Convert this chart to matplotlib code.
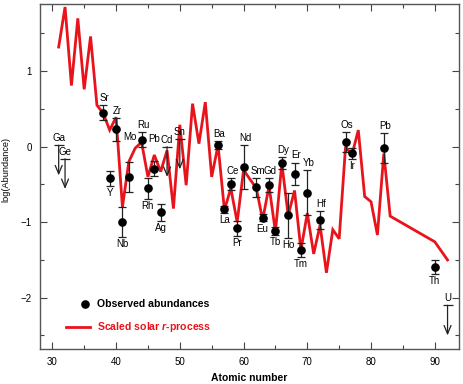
import matplotlib
matplotlib.use("Agg")
import matplotlib.pyplot as plt
import numpy as np

plt.rcParams['font.family'] = ['Liberation Sans', 'DejaVu Sans']
plt.rcParams['mathtext.fontset'] = 'custom'
plt.rcParams['mathtext.it'] = 'Liberation Sans:italic:bold'

# Scaled solar r-process curve
solar_z = [31, 32, 33, 34, 35, 36, 37, 38, 39, 40, 41, 42, 43, 44, 45, 46, 47, 48, 49, 50,
           51, 52, 53, 54, 55, 56, 57, 58, 59, 60, 62, 63, 64, 65, 66, 67, 68, 69, 70,
           71, 72, 73, 74, 75, 76, 77, 78, 79, 80, 81, 82, 83, 90, 92]
solar_log = [1.32, 1.85, 0.81, 1.70, 0.76, 1.46, 0.55, 0.44, 0.22, 0.39, -0.80, -0.20, -0.02, 0.06,
             -0.40, -0.11, -0.33, -0.05, -0.82, 0.29, -0.51, 0.57, 0.04, 0.59, -0.40, 0.02,
             -0.84, -0.55, -1.00, -0.31, -0.55, -0.97, -0.52, -1.13, -0.22, -0.91, -0.58,
             -1.37, -0.88, -1.42, -1.04, -1.67, -1.10, -1.22, 0.00, -0.11, 0.22, -0.66,
             -0.73, -1.17, -0.09, -0.92, -1.26, -1.50]

# Observed abundances with errors
obs_el = ['Sr', 'Y', 'Zr', 'Nb', 'Mo', 'Ru', 'Rh', 'Pb', 'Ag', 'Ba', 'La', 'Ce', 'Pr', 'Nd',
          'Sm', 'Eu', 'Gd', 'Tb', 'Dy', 'Ho', 'Er', 'Tm', 'Yb', 'Hf', 'Os', 'Ir', 'Pb', 'Th']
obs_z = [38, 39, 40, 41, 42, 44, 45, 46, 47, 56, 57, 58, 59, 60, 62, 63, 64, 65, 66, 67, 68,
         69, 70, 72, 76, 77, 82, 90]
obs_log = [0.45, -0.42, 0.23, -1.00, -0.40, 0.09, -0.55, -0.29, -0.87, 0.02, -0.83, -0.50,
           -1.08, -0.27, -0.54, -0.94, -0.51, -1.12, -0.22, -0.91, -0.36, -1.37, -0.61,
           -0.97, 0.06, -0.09, -0.02, -1.59]
obs_err = [0.10, 0.10, 0.15, 0.20, 0.20, 0.10, 0.14, 0.10, 0.11, 0.05, 0.05, 0.08, 0.10,
           0.29, 0.12, 0.05, 0.09, 0.05, 0.08, 0.30, 0.15, 0.09, 0.30, 0.12, 0.13, 0.07,
           0.20, 0.09]
obs_side = ['a', 'b', 'a', 'b', 'a', 'a', 'b', 'a', 'b', 'a', 'b', 'a', 'b', 'a',
            'a', 'b', 'a', 'b', 'a', 'b', 'a', 'b', 'a', 'a', 'a', 'b', 'a', 'b']

# Upper limits
lim_el = ['Ga', 'Ge', 'Cd', 'Sn', 'U']
lim_z = [31, 32, 48, 50, 92]
lim_log = [0.02, -0.16, 0.00, 0.10, -2.10]

fig = plt.figure(figsize=(4.63, 3.84), dpi=100)
ax = fig.add_axes([0.0864, 0.0911, 0.9046, 0.8985])

red = '#e8141c'
ax.plot(solar_z, solar_log, color=red, lw=2.0, zorder=2, solid_joinstyle='miter')

ax.errorbar(obs_z, obs_log, yerr=obs_err, fmt='o', color='black', ms=5.2,
            ecolor='#222222', elinewidth=0.9, capsize=3.2, capthick=0.9, zorder=4)

lab_fs = 7
special = {4: (1, 14), 7: (0, 12)}
for i, (el, z, v, e, s) in enumerate(zip(obs_el, obs_z, obs_log, obs_err, obs_side)):
    if s == 'a':
        dx, dy = special.get(i, (1, 1.5))
        ax.annotate(el, (z, v + e), xytext=(dx, dy), textcoords='offset points',
                    ha='center', va='bottom', fontsize=lab_fs, zorder=5)
    else:
        ax.annotate(el, (z, v - e), xytext=(0, -1.5), textcoords='offset points',
                    ha='center', va='top', fontsize=lab_fs, zorder=5)

for el, z, v in zip(lim_el, lim_z, lim_log):
    ax.plot([z], [v], marker='_', ms=7, mew=0.9, color='#222222', zorder=4)
    ax.annotate('', xy=(z, v - 0.4), xytext=(z, v),
                arrowprops=dict(arrowstyle='->,head_width=0.25,head_length=0.6',
                                color='#222222', lw=0.9, shrinkA=0, shrinkB=0), zorder=4)
    ax.annotate(el, (z, v), xytext=(0, 1.5), textcoords='offset points',
                ha='center', va='bottom', fontsize=lab_fs, zorder=5)

# manual legend
ax.plot([0.107], [0.1296], 'o', color='black', ms=5.2, transform=ax.transAxes)
ax.text(0.136, 0.1296, 'Observed abundances', transform=ax.transAxes, fontsize=7.6,
        fontweight='bold', va='center', ha='left')
ax.plot([0.062, 0.119], [0.0629, 0.0629], color=red, lw=2.0, transform=ax.transAxes)
ax.text(0.136, 0.0629, r'Scaled solar $\mathit{r}$-process', transform=ax.transAxes,
        fontsize=7.6, fontweight='bold', va='center', ha='left', color=red)

ax.set_xlim(28.07, 93.77)
ax.set_ylim(-2.68, 1.89)
ax.set_xticks([30, 40, 50, 60, 70, 80, 90])
ax.set_xticks(np.arange(35, 95, 10), minor=True)
ax.set_yticks([-2, -1, 0, 1])
ax.set_yticks([-2.5, -1.5, -0.5, 0.5, 1.5], minor=True)
ax.tick_params(which='both', direction='in', top=True, right=True, labelsize=7,
               color='#444444', width=0.8)
ax.tick_params(which='major', length=5)
ax.tick_params(which='minor', length=3)
ax.tick_params(axis='y', pad=6)
ax.tick_params(axis='x', pad=6)
for sp in ax.spines.values():
    sp.set_color('#555555')
    sp.set_linewidth(1.0)

ax.set_xlabel('Atomic number', fontsize=7.5, fontweight='bold', labelpad=4)
ax.set_ylabel('log(Abundance)', fontsize=6.6)
ax.yaxis.set_label_coords(-0.07, 0.52)

fig.savefig('out.png', dpi=100)
